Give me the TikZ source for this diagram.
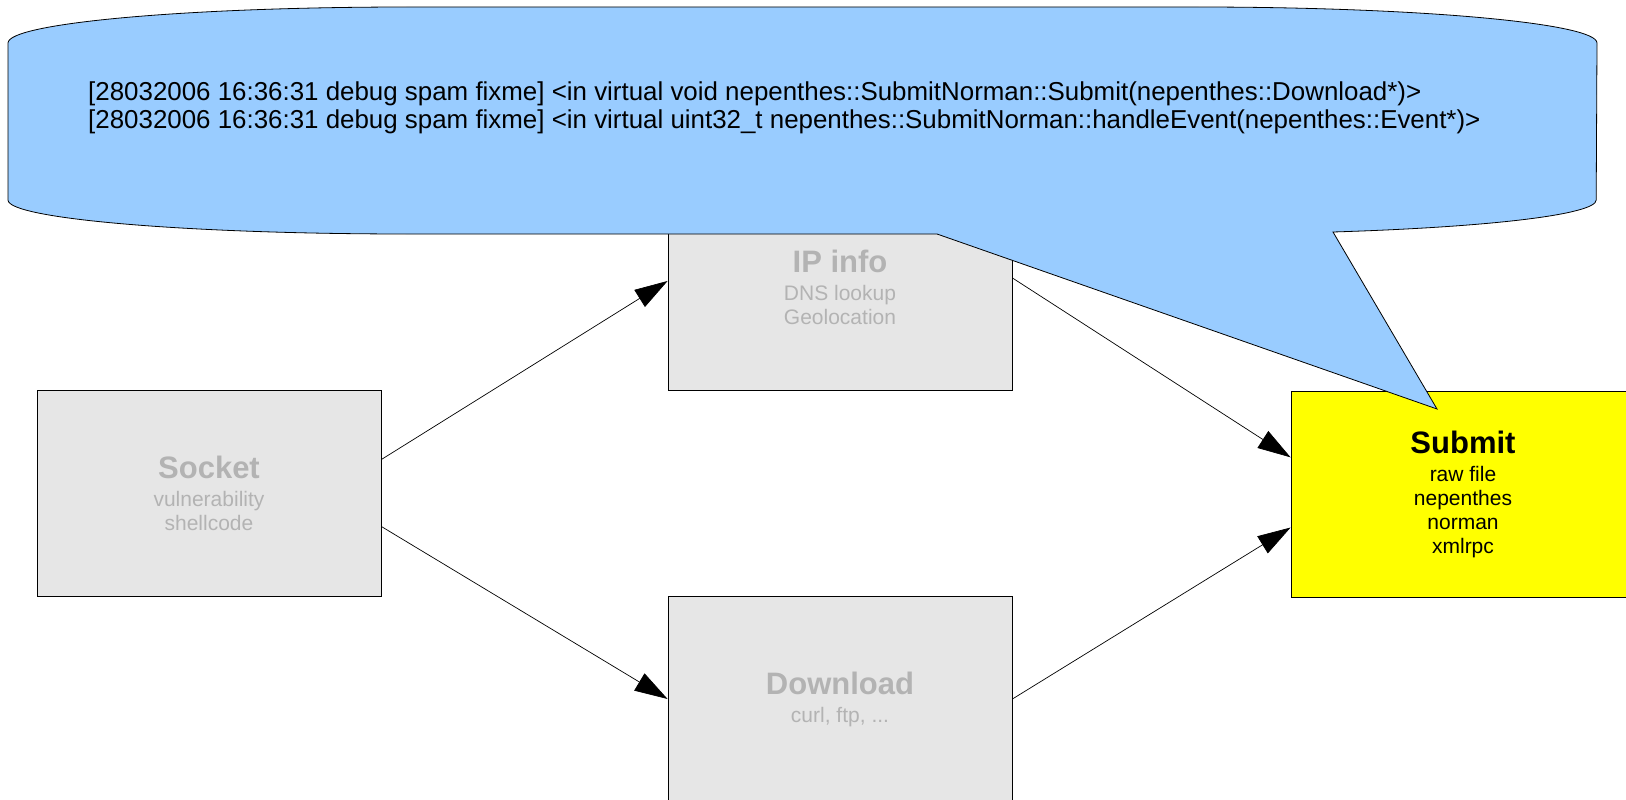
\documentclass[tikz,border=0pt]{standalone}
\usepackage{fontspec}
\setmainfont{Liberation Sans}
\usetikzlibrary{arrows.meta}
\definecolor{balloonblue}{HTML}{99CCFF}
\definecolor{boxgray}{HTML}{E6E6E6}
\definecolor{textgray}{HTML}{B3B3B3}
\definecolor{submityellow}{HTML}{FFFF00}
\newcommand{\stagetitle}[1]{{\fontsize{31}{24}\selectfont\bfseries #1}\\[4pt]}

\begin{document}
\begin{tikzpicture}[x=1pt,y=-1pt]
\tikzstyle{every node}+=[inner sep=0pt]
\tikzstyle{stage}=[draw=black,line width=0.8pt,fill=boxgray,text=textgray,minimum width=344pt,minimum height=206pt,align=center,font=\fontsize{21}{24}\selectfont]
\tikzstyle{active}=[stage,fill=submityellow,text=black]
\tikzstyle{flow}=[line width=0.7pt,-{Triangle[length=33pt,width=20pt]}]
\useasboundingbox (0,0) rectangle (1626,800);
\node [stage] (socket) at (209,493) {\stagetitle{Socket}vulnerability\\shellcode};
\node [stage] (ip) at (840,287) {\stagetitle{IP info}DNS lookup\\Geolocation};
\node [stage] (download) at (840,699) {\stagetitle{Download}curl, ftp, ...};
\node [active] (submit) at (1463,494) {\stagetitle{Submit}raw file\\nepenthes\\norman\\xmlrpc};
\draw [flow] (socket.11.5) -- (ip.178);
\draw [flow] (socket.-11) -- (download.west);
\draw [flow] (ip.3) -- (submit.168);
\draw [flow] (download.east) -- (submit.191);
\draw [fill=balloonblue,line width=0.8pt] (8,43) -- (8,200)
  arc [start angle=180,end angle=90,x radius=400,y radius=34] -- (937,234)
  -- (1437,409) -- (1333,232)
  arc [start angle=70,end angle=0,x radius=400,y radius=34] -- (1597,43)
  arc [start angle=0,end angle=-90,x radius=400,y radius=36] -- (408,7)
  arc [start angle=-90,end angle=-180,x radius=400,y radius=36] -- cycle;
\node [anchor=base west,align=left,font=\fontsize{25.9}{28}\selectfont] (log) at (88,128.5)
  {{[}28032006 16:36:31 debug spam fixme{]} <in virtual void nepenthes::SubmitNorman::Submit(nepenthes::Download*)>\\
   {[}28032006 16:36:31 debug spam fixme{]} <in virtual uint32\_t nepenthes::SubmitNorman::handleEvent(nepenthes::Event*)>};
\end{tikzpicture}
\end{document}
